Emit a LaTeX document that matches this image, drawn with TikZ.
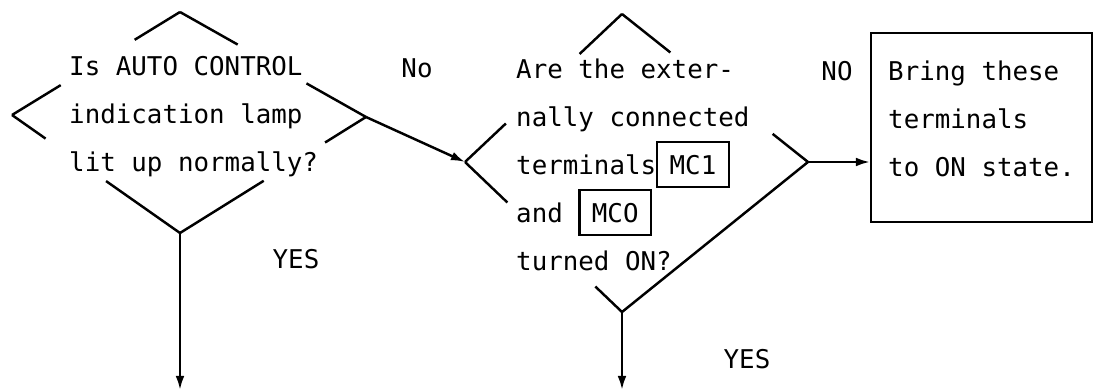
\documentclass[tikz,border=0pt]{standalone}
\usepackage{fontspec}
\newfontfamily\typer{DejaVu Sans Mono}
\usetikzlibrary{positioning,calc,arrows.meta}
\setlength{\fboxsep}{6.5pt}
\setlength{\fboxrule}{1.2pt}
\begin{document}
\begin{tikzpicture}[x=0.02cm,y=-0.02cm,line width=1.4pt,
 txt/.style={font={\typer\fontsize{14.7pt}{27.3pt}\selectfont},align=left,inner sep=0pt,anchor=base west},
 flow/.style={-{Latex[length=8pt,width=5pt]}}]
\useasboundingbox (0,0) rectangle (1093,392);
\coordinate (d1t) at (180,12); \coordinate (d1l) at (12,115);
\coordinate (d1r) at (366,117); \coordinate (d1b) at (180,233);
\coordinate (d2t) at (622,14); \coordinate (d2l) at (465,162);
\coordinate (d2r) at (808,162); \coordinate (d2b) at (622,312);
\coordinate (d1e) at (180,390); \coordinate (d2e) at (622,390);
\foreach \a/\b/\f in {d1t/d1l/0.27,d1l/d1t/0.29,d1t/d1r/0.31,d1r/d1t/0.32,
 d1l/d1b/0.2,d1b/d1l/0.44,d1b/d1r/0.45,d1r/d1b/0.22,
 d2t/d2l/0.27,d2l/d2t/0.26,d2t/d2r/0.26,d2r/d2t/0.19,d2l/d2b/0.27,d2b/d2l/0.17}
 {\draw (\a)--($(\a)!\f!(\b)$);}
\draw (d2b)--(d2r);
\node[txt] (q1) at (68,171) {Is AUTO CONTROL\\indication lamp\\lit up normally?};
\node[txt] (q2) at (515,270) {Are the exter-\\nally connected\\terminals\fbox{MC1}\\and \fbox{MCO}\\turned ON?};
\node[draw,minimum width=4.42cm,minimum height=3.78cm,anchor=north west,inner sep=0pt] (bring) at (870,32) {};
\node[txt] (bringtext) at (887,176) {Bring these\\terminals\\to ON state.};
\node[txt,anchor=base] (no1) at (417,77) {No};
\node[txt,anchor=base] (no2) at (837,80) {NO};
\node[txt,anchor=base] (yes1) at (296,268) {YES};
\node[txt,anchor=base] (yes2) at (747,368) {YES};
\draw[flow] (d1r)--(d2l);
\draw[flow] (d2r)--(d2r -| bring.west);
\draw[flow] (d1b)--(d1e);
\draw[flow] (d2b)--(d2e);
\end{tikzpicture}
\end{document}
